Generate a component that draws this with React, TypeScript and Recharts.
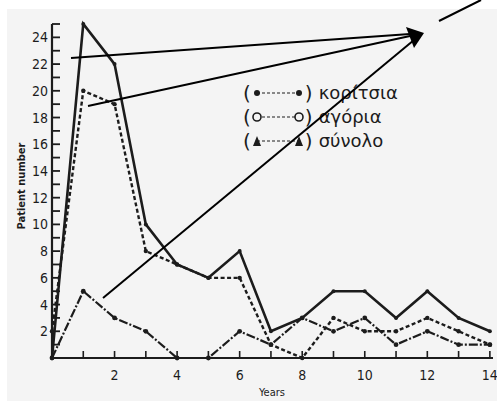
import { LineChart, Line, XAxis, YAxis } from 'recharts';

// Patient number per year of age
const years = [0, 1, 2, 3, 4, 5, 6, 7, 8, 9, 10, 11, 12, 13, 14];
const girls = [0, 5, 3, 2, 0, 0, 2, 1, 3, 2, 3, 1, 2, 1, 1];
const boys = [2, 20, 19, 8, 7, 6, 6, 1, 0, 3, 2, 2, 3, 2, 1];
const total = [0, 25, 22, 10, 7, 6, 8, 2, 3, 5, 5, 3, 5, 3, 2];

const xTicks = [0, 1, 2, 3, 4, 5, 6, 7, 8, 9, 10, 11, 12, 13, 14];
const yTicks = [0, 1, 2, 3, 4, 5, 6, 7, 8, 9, 10, 11, 12, 13, 14, 15, 16, 17, 18, 19, 20, 21, 22, 23, 24, 25];

const legendRows = [
  { label: 'κορίτσια', mark: 'dot' },
  { label: 'αγόρια', mark: 'circle' },
  { label: 'σύνολο', mark: 'triangle' },
];

const data = years.map((y, i) => ({ year: y, girls: girls[i], boys: boys[i], total: total[i] }));

const INK = '#1c1c1c';
const TICK_FONT = '"DejaVu Sans Condensed", "DejaVu Sans", sans-serif';

function XTick({ x, y, payload }: any) {
  const v = payload.value;
  return (
    <g>
      <line x1={x} x2={x} y1={y} y2={y - 7} stroke={INK} strokeWidth={1.6} />
      {v > 0 && v % 2 === 0 && (
        <text x={x} y={y + 22} textAnchor="middle" fontSize={14} fontFamily={TICK_FONT} fill={INK}>
          {v}
        </text>
      )}
    </g>
  );
}

function YTick({ x, y, payload }: any) {
  const v = payload.value;
  return (
    <g>
      <line x1={x} x2={x + 8} y1={y} y2={y} stroke={INK} strokeWidth={1.8} />
      {v > 0 && v % 2 === 0 && (
        <text x={x - 4} y={y + 5} textAnchor="end" fontSize={14} fontFamily={TICK_FONT} fill={INK}>
          {v}
        </text>
      )}
    </g>
  );
}

function LegendBox() {
  return (
    <div style={{ fontFamily: '"DejaVu Sans", sans-serif', color: INK, lineHeight: '24px' }}>
      {legendRows.map((r) => (
        <div key={r.label} style={{ display: 'flex', alignItems: 'center', height: 24 }}>
          <span style={{ fontSize: 20 }}>(</span>
          <svg width={54} height={14}>
            <line x1={6} x2={48} y1={7} y2={7} stroke={INK} strokeWidth={1.2} strokeDasharray="3 2" />
            {r.mark === 'dot' && (
              <>
                <circle cx={6} cy={7} r={3} fill={INK} />
                <circle cx={48} cy={7} r={3} fill={INK} />
              </>
            )}
            {r.mark === 'circle' && (
              <>
                <circle cx={6} cy={7} r={4} fill="#f4f4f4" stroke={INK} strokeWidth={1.6} />
                <circle cx={48} cy={7} r={4} fill="#f4f4f4" stroke={INK} strokeWidth={1.6} />
              </>
            )}
            {r.mark === 'triangle' && (
              <>
                <polygon points="2,12 6,2 10,12" fill={INK} />
                <polygon points="44,12 48,2 52,12" fill={INK} />
              </>
            )}
          </svg>
          <span style={{ fontSize: 20 }}>)</span>
          <span style={{ fontSize: 18, marginLeft: 6 }}>{r.label}</span>
        </div>
      ))}
    </div>
  );
}

export default function App() {
  return (
    <div style={{ position: 'absolute', left: 0, top: 0, width: 497, height: 401, background: '#fff' }}>
      <div style={{ position: 'absolute', left: 7, top: 9, width: 490, height: 392, background: '#f4f4f4' }} />
      <div style={{ position: 'absolute', left: 0, top: 0 }}>
        <LineChart width={497} height={401} data={data} margin={{ top: 24, right: 4, bottom: 13, left: 0 }}>
          <XAxis
            dataKey="year"
            type="number"
            domain={[0, 14.1]}
            ticks={xTicks}
            interval={0}
            tickSize={0}
            tickMargin={0}
            height={30}
            axisLine={{ stroke: INK, strokeWidth: 2 }}
            tick={<XTick />}
          />
          <YAxis
            type="number"
            domain={[0, 25]}
            ticks={yTicks}
            interval={0}
            tickSize={0}
            tickMargin={0}
            width={52}
            axisLine={{ stroke: INK, strokeWidth: 2.2 }}
            tick={<YTick />}
          />
          <Line
            dataKey="total"
            stroke={INK}
            strokeWidth={2.6}
            dot={{ r: 2, fill: INK, stroke: 'none' }}
            isAnimationActive={false}
          />
          <Line
            dataKey="boys"
            stroke={INK}
            strokeWidth={2.4}
            strokeDasharray="4 2.5"
            dot={{ r: 2.2, fill: INK, stroke: 'none' }}
            isAnimationActive={false}
          />
          <Line
            dataKey="girls"
            stroke={INK}
            strokeWidth={2.2}
            strokeDasharray="9 2 2 2"
            dot={{ r: 2.4, fill: INK, stroke: 'none' }}
            isAnimationActive={false}
          />
        </LineChart>
      </div>
      <div style={{ position: 'absolute', left: 243, top: 81, width: 200 }}>
        <LegendBox />
      </div>
      {/* annotation arrows */}
      <svg width={497} height={401} style={{ position: 'absolute', left: 0, top: 0, pointerEvents: 'none' }}>
        <line x1={71} y1={58} x2={410} y2={34} stroke="#000" strokeWidth={2} />
        <line x1={88} y1={106} x2={410} y2={36} stroke="#000" strokeWidth={2} />
        <line x1={103} y1={298} x2={414} y2={40} stroke="#000" strokeWidth={2} />
        <polygon points="406,27 424,33 414,48" fill="#000" />
        <line x1={439} y1={21} x2={481} y2={0} stroke="#000" strokeWidth={2} />
      </svg>
      <div
        style={{
          position: 'absolute',
          left: 21,
          top: 186,
          transform: 'translate(-50%, -50%) rotate(-90deg)',
          fontFamily: TICK_FONT,
          fontSize: 11,
          fontWeight: 'bold',
          color: INK,
          whiteSpace: 'nowrap',
        }}
      >
        Patient number
      </div>
      <div
        style={{
          position: 'absolute',
          left: 272,
          top: 392,
          transform: 'translate(-50%, -50%)',
          fontFamily: TICK_FONT,
          fontSize: 11,
          color: INK,
        }}
      >
        Years
      </div>
    </div>
  );
}
